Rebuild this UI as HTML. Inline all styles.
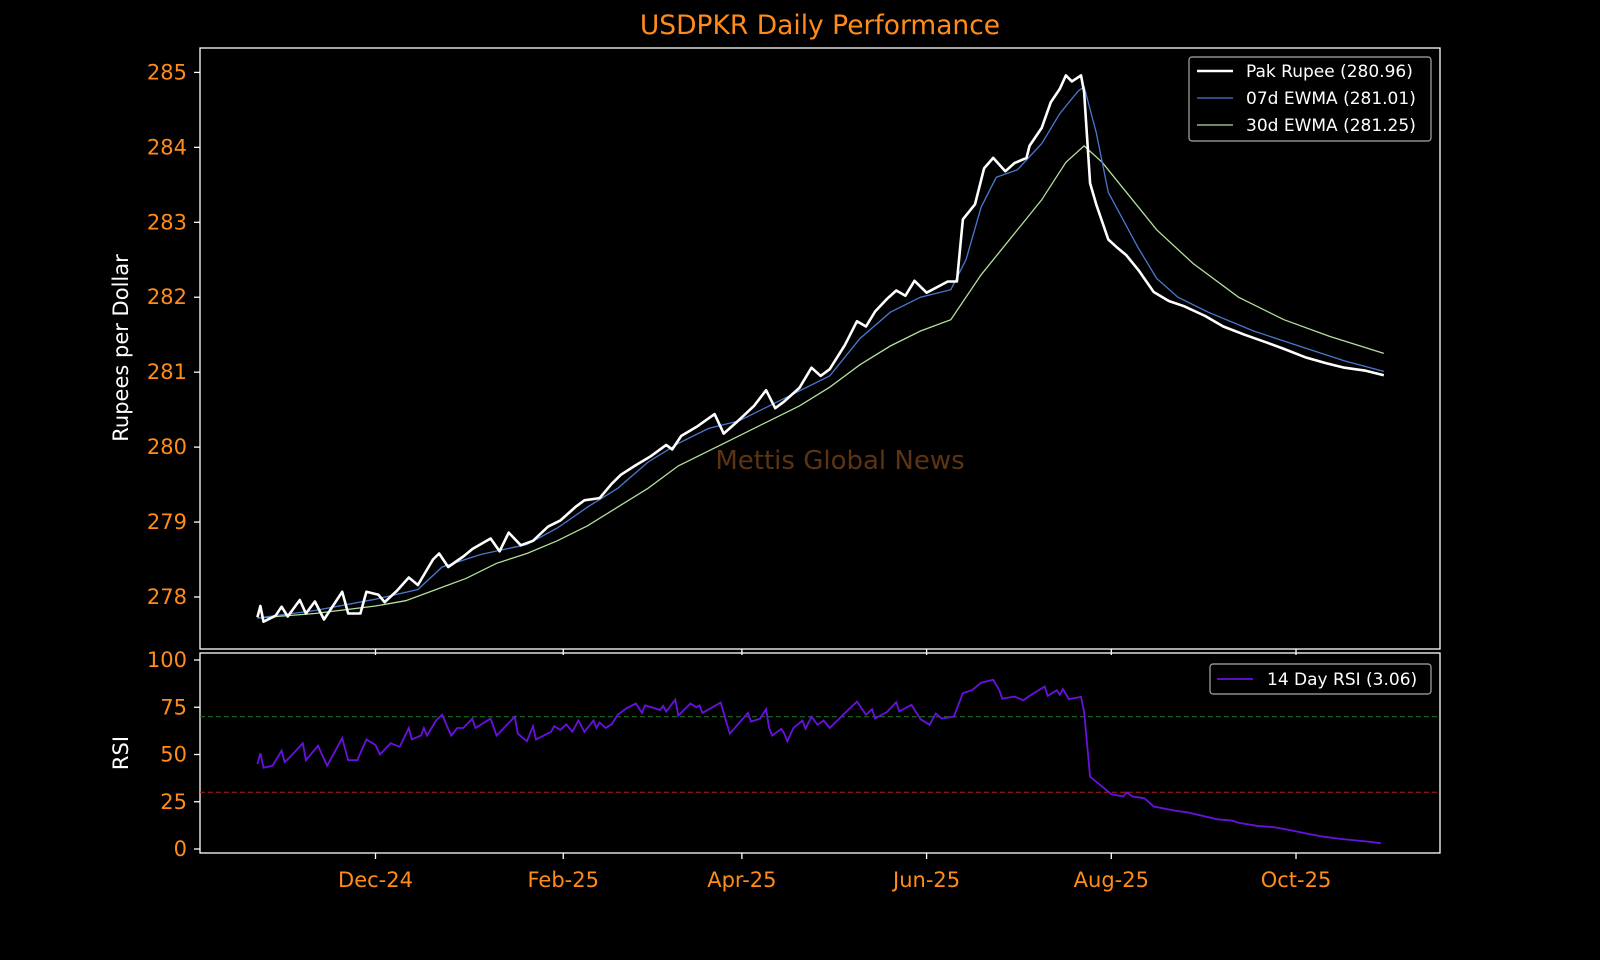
<!DOCTYPE html>
<html><head><meta charset="utf-8"><style>
html,body{margin:0;padding:0;background:#000;}
svg{display:block;font-family:"DejaVu Sans","Liberation Sans",sans-serif;}
</style></head><body>
<svg id="chart" width="1600" height="960" viewBox="0 0 1600 960" xmlns="http://www.w3.org/2000/svg">
<rect width="1600" height="960" fill="#000"/>
<text x="820" y="34" fill="#ff8c1a" font-size="26.5" text-anchor="middle">USDPKR Daily Performance</text>
<text x="0" y="0" transform="translate(128,348) rotate(-90)" fill="#fff" font-size="21" text-anchor="middle">Rupees per Dollar</text>
<text x="0" y="0" transform="translate(128,753) rotate(-90)" fill="#fff" font-size="21" text-anchor="middle">RSI</text>
<text x="840" y="469" fill="#5c3411" font-size="26" text-anchor="middle">Mettis Global News</text>
<g id="main"></g>
</svg>
<script>
// Days offset from 2024-12-01
const priceDays=[-39,-38,-37,-33,-31,-29,-25,-23,-20,-17,-11,-9,-5,-3,1,3,7,11,14,19,21,24,29,32,38,41,44,48,52,57,61,66,69,74,78,81,86,91,96,98,101,106,112,115,120,125,129,132,135,140,144,147,150,155,159,162,165,169,172,175,178,182,189,192,194,198,201,204,208,211,215,216,220,223,226,228,230,233,234,236,238,242,245,248,252,257,262,267,274,280,287,294,300,307,314,320,327,333];
const priceVals=[277.73,277.88,277.67,277.75,277.87,277.74,277.96,277.78,277.94,277.70,278.07,277.78,277.78,278.07,278.03,277.93,278.08,278.26,278.16,278.50,278.58,278.40,278.54,278.64,278.78,278.61,278.86,278.69,278.75,278.94,279.02,279.20,279.29,279.32,279.51,279.63,279.76,279.88,280.03,279.97,280.15,280.27,280.44,280.18,280.36,280.55,280.76,280.52,280.61,280.79,281.06,280.95,281.04,281.36,281.68,281.61,281.81,281.98,282.09,282.02,282.22,282.06,282.21,282.21,283.04,283.24,283.72,283.86,283.68,283.79,283.86,284.02,284.26,284.60,284.78,284.96,284.88,284.96,284.74,283.52,283.24,282.77,282.66,282.56,282.36,282.07,281.95,281.88,281.75,281.61,281.50,281.40,281.31,281.20,281.12,281.06,281.02,280.96];
const ewma7Days=[-39,-20,0,14,22,35,50,60,70,80,90,100,110,120,130,140,150,160,170,180,190,195,200,205,212,220,226,232,234,238,242,246,252,258,265,275,290,305,320,333];
const ewma7Vals=[277.72,277.82,277.97,278.10,278.40,278.57,278.70,278.92,279.20,279.45,279.80,280.05,280.25,280.35,280.55,280.75,280.95,281.45,281.80,282.00,282.10,282.50,283.20,283.60,283.70,284.05,284.45,284.75,284.81,284.20,283.40,283.10,282.65,282.25,282.00,281.80,281.55,281.35,281.15,281.01];
const ewma30Days=[-39,-20,0,10,20,30,40,50,60,70,80,90,100,110,120,130,140,150,160,170,180,190,200,210,220,228,234,240,248,258,270,285,300,315,333];
const ewma30Vals=[277.72,277.78,277.88,277.95,278.10,278.25,278.45,278.58,278.75,278.95,279.20,279.45,279.75,279.95,280.15,280.35,280.55,280.80,281.10,281.35,281.55,281.70,282.30,282.80,283.30,283.80,284.02,283.80,283.40,282.90,282.45,282.00,281.70,281.48,281.25];
const rsiDays=[-39,-38,-37,-34,-31,-30,-28,-24,-23,-19,-16,-11,-9,-6,-3,0,1.5,5,8,11,12,15,16,17,20,22,25,27,29,32,33,38,40,46,47,50,52,53,58,59,61,63,65,67,69,72,73,74,76,78,80,83,86,88,89,94,95,96,99,100,104,106,107,108,114,116,117,123,124,127,129,130,131,134,135,136,138,141,142,144,146,148,150,156,159,162,164,165,169,172,173,177,180,183,185,187,191,194,197,200,204,206,207,211,214,216,221,222,225,226,227,229,233,234,236,238,243,247,248,250,254,257,264,268,273,278,283,285,291,297,302,307,313,319,327,332];
const rsiVals=[45,50.7,43,44,52,46,49,56,47,54.6,44,58.6,47,47,58,55,50,56,54,64,58,60,64,60,68,71,60,64,64,69,64,69,60,70,61,57,65,58,62,65,63,66,62,68,62,68,64,67,64,66,71,74.5,77,72,76,73.6,75.7,72.7,79,70.6,77,75,76,72,77.5,66.5,61,72,67.4,69,74,64,60,63.6,61,57,64,68,63.6,70,65.7,68,64,73.5,78,71,74,69,72.6,77.7,72.8,76.3,68.7,65.7,71.7,69,70,82.5,84,88,89.5,84,79.5,80.7,78.6,81,86,81,84,81.6,84.6,79.3,80.5,72.6,38.2,35.6,29,27.8,30,27.8,26.8,22.5,20.3,19.4,17.6,15.7,15,13.9,12.3,11.5,10,8.3,6.5,5.3,4,3.06];
const yTicks=[278,279,280,281,282,283,284,285];
const rsiTicks=[0,25,50,75,100];
const xTickDays=[0,62,121,182,243,304];
const xTickLabels=["Dec-24","Feb-25","Apr-25","Jun-25","Aug-25","Oct-25"];

const NS="http://www.w3.org/2000/svg";
const g=document.getElementById('main');
const AX={l:200,r:1440,t:48,b:649}, RX={t:653,b:853};
const xs=d=>375.5+d*3.028;
const ys=v=>597-(v-278)*74.94;
const yr=v=>849-v*1.89;
function mk(tag,attrs,parent){const e=document.createElementNS(NS,tag);for(const k in attrs)e.setAttribute(k,attrs[k]);(parent||g).appendChild(e);return e;}
function pts(ds,vs,f){return ds.map((d,i)=>xs(d).toFixed(1)+","+f(vs[i]).toFixed(1)).join(" ");}

let f1=mk('rect',{x:AX.l,y:AX.t,width:AX.r-AX.l,height:AX.b-AX.t,fill:'none',stroke:'#fff','stroke-width':1.3});


let f2=mk('rect',{x:AX.l,y:RX.t,width:AX.r-AX.l,height:RX.b-RX.t,fill:'none',stroke:'#fff','stroke-width':1.3});



yTicks.forEach(v=>{
  const y=ys(v);
  let t=mk('line',{x1:AX.l-6,x2:AX.l,y1:y,y2:y,stroke:'#fff','stroke-width':1.3});
  
  
  let l=mk('text',{x:AX.l-13,y:y+7,fill:'#ff8c1a','font-size':21,'text-anchor':'end'});
  l.textContent=v;
  
  
});
rsiTicks.forEach(v=>{
  const y=yr(v);
  let t=mk('line',{x1:AX.l-6,x2:AX.l,y1:y,y2:y,stroke:'#fff','stroke-width':1.3});
  
  
  let l=mk('text',{x:AX.l-13,y:y+7,fill:'#ff8c1a','font-size':21,'text-anchor':'end'});
  l.textContent=v;
  
  
});
xTickDays.forEach((d,i)=>{
  const x=xs(d);
  let t1=mk('line',{x1:x,x2:x,y1:AX.b,y2:AX.b+6,stroke:'#fff','stroke-width':1.3});
  
  
  let t2=mk('line',{x1:x,x2:x,y1:RX.b,y2:RX.b+6,stroke:'#fff','stroke-width':1.3});
  
  
  let l=mk('text',{x:x,y:RX.b+34,fill:'#ff8c1a','font-size':21,'text-anchor':'middle'});
  l.textContent=xTickLabels[i];
  
  
});

let h70=mk('line',{x1:AX.l,x2:AX.r,y1:yr(70),y2:yr(70),stroke:'#1f7a1f','stroke-width':1,'stroke-dasharray':'5,3'});


let h30=mk('line',{x1:AX.l,x2:AX.r,y1:yr(30),y2:yr(30),stroke:'#b01c1c','stroke-width':1,'stroke-dasharray':'5,3'});



let s30=mk('polyline',{points:pts(ewma30Days,ewma30Vals,ys),fill:'none',stroke:'#b3df9c','stroke-width':1.3});


let s7=mk('polyline',{points:pts(ewma7Days,ewma7Vals,ys),fill:'none',stroke:'#4a78cf','stroke-width':1.3});


let sp=mk('polyline',{points:pts(priceDays,priceVals,ys),fill:'none',stroke:'#fff','stroke-width':2.6,'stroke-linejoin':'round'});


let sr=mk('polyline',{points:pts(rsiDays,rsiVals,yr),fill:'none',stroke:'#6a10e0','stroke-width':1.8});



let lg=mk('rect',{x:1189,y:57,width:242,height:84,rx:3,fill:'#000',stroke:'#aaa','stroke-width':1.2});


const legItems=[["Pak Rupee (280.96)","#fff",2.6],["07d EWMA (281.01)","#4a78cf",1.3],["30d EWMA (281.25)","#b3df9c",1.3]];
legItems.forEach((it,i)=>{
  const y=71+i*27;
  let ln=mk('line',{x1:1197,x2:1233,y1:y,y2:y,stroke:it[1],'stroke-width':it[2]});
  
  
  let tx=mk('text',{x:1246,y:y+6,fill:'#fff','font-size':17});
  tx.textContent=it[0];
  
  
});
let lg2=mk('rect',{x:1210,y:664,width:221,height:30,rx:3,fill:'#000',stroke:'#aaa','stroke-width':1.2});


let l2=mk('line',{x1:1217,x2:1253,y1:679,y2:679,stroke:'#6a10e0','stroke-width':1.8});


let t2=mk('text',{x:1267,y:685,fill:'#fff','font-size':17});
t2.textContent="14 Day RSI (3.06)";


</script>
</body></html>
